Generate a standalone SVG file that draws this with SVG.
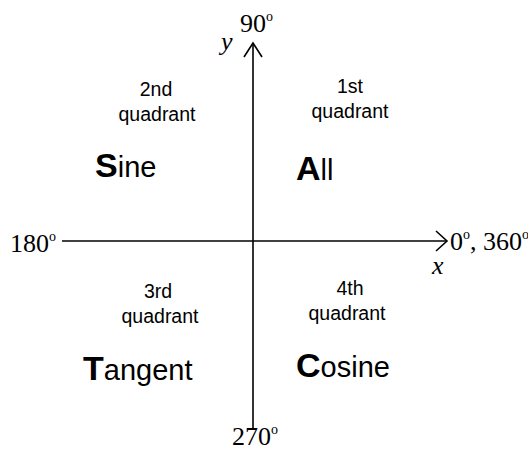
<svg xmlns="http://www.w3.org/2000/svg" width="528" height="450" viewBox="0 0 528 450">
<style>
.ax{stroke:#000;stroke-width:1.6;fill:none}
.serif{font-family:"Liberation Serif","Times New Roman",serif;font-size:26px;fill:#000}
.it{font-style:italic}
.q{font-family:"Liberation Sans",Arial,sans-serif;font-size:19.5px;fill:#000;text-anchor:middle}
.big{font-family:"Liberation Sans",Arial,sans-serif;font-size:29px;fill:#000}
.cap{font-weight:bold;font-size:34px}
.deg{font-size:14px}
</style>
<rect width="528" height="450" fill="#fff"/>
<g id="connectors">
<line class="ax" x1="253" y1="43" x2="253" y2="428"/>
<polyline class="ax" points="244,57 253,43 262,57"/>
<line class="ax" x1="62" y1="241" x2="447" y2="241"/>
<polyline class="ax" points="436,231 447,241 436,251"/>
</g>
<g id="label-90"><text class="serif" x="240" y="32">90<tspan class="deg" dy="-11">o</tspan></text></g>
<g id="label-y"><text class="serif it" x="221" y="50">y</text></g>
<g id="label-180"><text class="serif" x="10" y="252">180<tspan class="deg" dy="-11">o</tspan></text></g>
<g id="label-0-360"><text class="serif" x="450" y="250">0<tspan class="deg" dy="-11">o</tspan><tspan dy="11">, 360</tspan><tspan class="deg" dy="-11">o</tspan></text></g>
<g id="label-x"><text class="serif it" x="432" y="274">x</text></g>
<g id="label-270"><text class="serif" x="232" y="445">270<tspan class="deg" dy="-11">o</tspan></text></g>
<g id="q2"><text class="q" x="156" y="96">2nd</text><text class="q" x="157" y="121">quadrant</text></g>
<g id="q1"><text class="q" x="350" y="93">1st</text><text class="q" x="350" y="118">quadrant</text></g>
<g id="q3"><text class="q" x="158" y="298">3rd</text><text class="q" x="160" y="323">quadrant</text></g>
<g id="q4"><text class="q" x="350" y="295">4th</text><text class="q" x="347" y="320">quadrant</text></g>
<g id="sine"><text class="big" x="95" y="177"><tspan class="cap">S</tspan>ine</text></g>
<g id="all"><text class="big" x="296" y="180"><tspan class="cap">A</tspan>ll</text></g>
<g id="tangent"><text class="big" x="83" y="380"><tspan class="cap">T</tspan>angent</text></g>
<g id="cosine"><text class="big" x="296" y="377"><tspan class="cap">C</tspan>osine</text></g>
</svg>
